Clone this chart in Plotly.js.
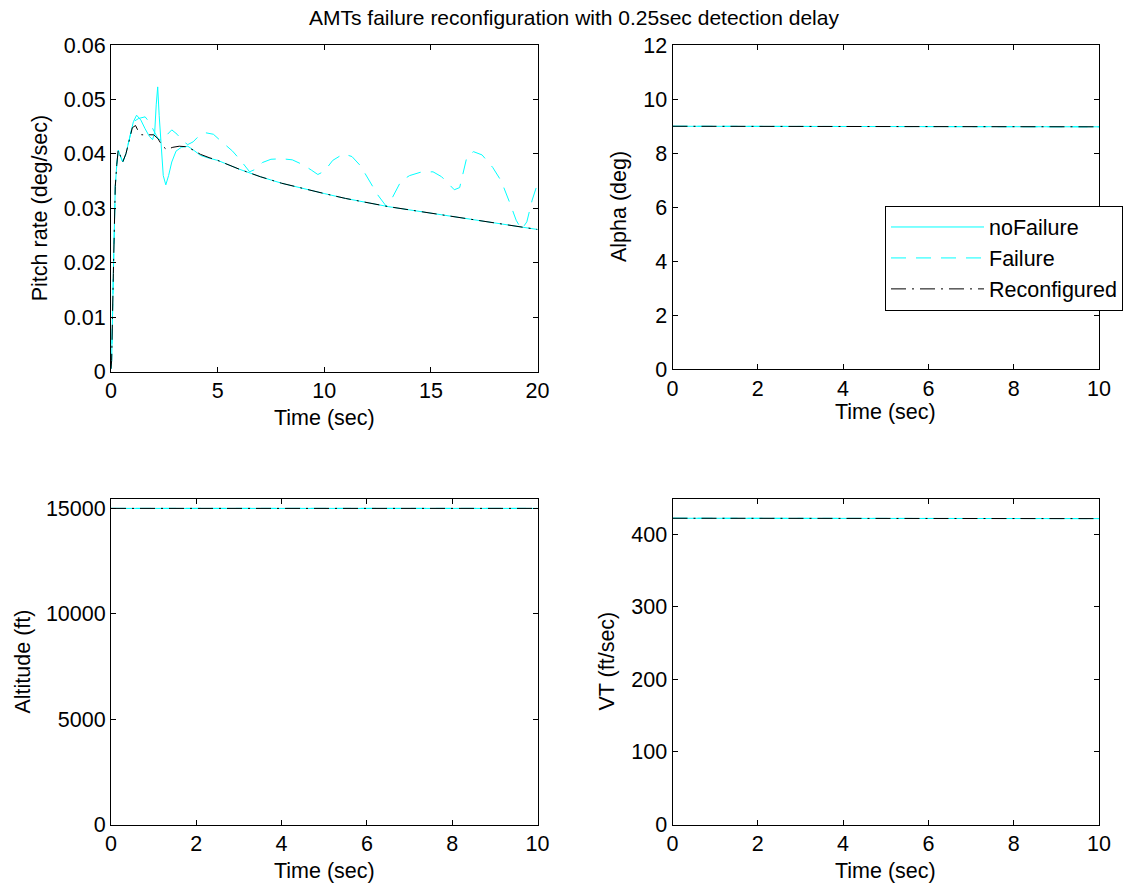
<!DOCTYPE html>
<html>
<head>
<meta charset="utf-8">
<script src="https://cdn.plot.ly/plotly-3.0.1.min.js"></script>
<style>html,body{margin:0;padding:0;background:#fff;}#chart{width:1148px;height:888px;}</style>
</head>
<body>
<div id="chart"></div>
<script>
// ---- Data ----
const seriesNames = ["noFailure", "Failure", "Reconfigured"];

// Pitch rate (deg/sec) vs time, 0..20 s
const tNoFail = [0, 0.03, 0.11, 0.2, 0.27, 0.34, 0.45, 0.55, 0.7, 0.85, 1.05, 1.2, 1.4, 1.6, 1.8, 1.95, 2.05, 2.12, 2.19, 2.26, 2.35, 2.45, 2.57, 2.7, 2.85, 3.05, 3.3, 3.6, 3.9, 4.2, 4.6, 5, 6, 7, 8, 9, 10, 11, 12, 13, 14, 15, 16, 17, 18, 19, 20];
const qNoFail = [0.0005, 0.002, 0.018, 0.034, 0.038, 0.0407, 0.0395, 0.0385, 0.040, 0.0428, 0.0459, 0.0471, 0.0462, 0.0446, 0.0432, 0.0426, 0.044, 0.049, 0.0523, 0.047, 0.041, 0.036, 0.0343, 0.036, 0.0385, 0.0405, 0.0412, 0.0414, 0.0406, 0.0397, 0.0392, 0.0388, 0.0372, 0.0358, 0.0346, 0.0336, 0.0327, 0.0318, 0.031, 0.0303, 0.0297, 0.0291, 0.0284, 0.0278, 0.0272, 0.0266, 0.0261];

const tFail = [0, 0.03, 0.11, 0.2, 0.27, 0.34, 0.45, 0.55, 0.7, 0.85, 1.05, 1.3, 1.6, 1.8, 2.0, 2.2, 2.4, 2.6, 2.85, 3.1, 3.35, 3.6, 3.85, 4.1, 4.4, 4.8, 5.2, 5.7, 6.1, 6.5, 6.8, 7.1, 7.5, 8.0, 8.5, 9.0, 9.4, 9.7, 10.0, 10.4, 10.9, 11.3, 11.7, 12.1, 12.5, 12.9, 13.2, 13.6, 14.0, 14.5, 15.1, 15.5, 15.8, 16.1, 16.35, 16.7, 17.0, 17.4, 17.9, 18.3, 18.7, 19.0, 19.25, 19.5, 19.75, 20];
const qFail = [0.0005, 0.002, 0.018, 0.034, 0.038, 0.0407, 0.0395, 0.0385, 0.040, 0.0428, 0.0459, 0.0465, 0.0468, 0.0458, 0.0444, 0.0428, 0.0424, 0.0434, 0.0444, 0.0436, 0.0424, 0.0417, 0.0422, 0.0432, 0.0439, 0.0436, 0.0422, 0.0405, 0.0387, 0.0367, 0.0372, 0.0384, 0.0390, 0.0391, 0.0389, 0.0380, 0.0370, 0.0362, 0.0368, 0.0388, 0.0400, 0.0395, 0.0378, 0.0352, 0.0325, 0.0304, 0.0320, 0.0350, 0.0360, 0.0366, 0.0367, 0.0358, 0.0345, 0.0334, 0.0338, 0.0396, 0.0404, 0.0398, 0.0375, 0.0350, 0.0310, 0.0278, 0.0261, 0.0275, 0.0315, 0.0345];

const tReconf = [0, 0.03, 0.11, 0.2, 0.27, 0.34, 0.45, 0.55, 0.7, 0.85, 1.0, 1.15, 1.3, 1.44, 2.0, 2.2, 2.4, 2.6, 2.9, 3.2, 3.55, 3.9, 4.2, 4.6, 5, 6, 7, 8, 9, 10, 11, 12, 13, 14, 15, 16, 17, 18, 19, 20];
const qReconf = [0.0005, 0.002, 0.018, 0.034, 0.038, 0.0407, 0.0395, 0.0385, 0.040, 0.0425, 0.0448, 0.0452, 0.0440, 0.0435, 0.0435, 0.0428, 0.0415, 0.0408, 0.0412, 0.0414, 0.0413, 0.0406, 0.0399, 0.0393, 0.0388, 0.0372, 0.0358, 0.0346, 0.0336, 0.0327, 0.0318, 0.031, 0.0303, 0.0297, 0.0291, 0.0284, 0.0278, 0.0272, 0.0266, 0.0261];

// Alpha, Altitude, VT vs time, 0..10 s
const t10 = [0, 1, 2, 3, 4, 5, 6, 7, 8, 9, 10];
const alphaNoFail = [8.99, 8.99, 8.99, 8.98, 8.98, 8.98, 8.98, 8.97, 8.97, 8.97, 8.97];
const alphaFail   = [8.99, 8.99, 8.99, 8.98, 8.98, 8.98, 8.98, 8.97, 8.97, 8.97, 8.97];
const alphaReconf = [8.99, 8.99, 8.99, 8.98, 8.98, 8.98, 8.98, 8.97, 8.97, 8.97, 8.97];
const altNoFail = [15000, 15000, 15000, 15000, 15000, 15000, 15000, 15000, 15000, 15000, 15000];
const altFail   = [15000, 15000, 15000, 15000, 15000, 15000, 15000, 15000, 15000, 15000, 15000];
const altReconf = [15000, 15000, 15000, 15000, 15000, 15000, 15000, 15000, 15000, 15000, 15000];
const vtNoFail = [421.8, 421.8, 421.7, 421.7, 421.6, 421.6, 421.5, 421.5, 421.4, 421.4, 421.3];
const vtFail   = [421.8, 421.8, 421.7, 421.7, 421.6, 421.6, 421.5, 421.5, 421.4, 421.4, 421.3];
const vtReconf = [421.8, 421.8, 421.7, 421.7, 421.6, 421.6, 421.5, 421.5, 421.4, 421.4, 421.3];

const titleText = "AMTs failure reconfiguration with 0.25sec detection delay";
const xLabel = "Time (sec)";
const yLabels = ["Pitch rate (deg/sec)", "Alpha (deg)", "Altitude (ft)", "VT (ft/sec)"];

// ---- Styles ----
const FONT = "Liberation Sans, Arial, Helvetica, sans-serif";
const FS = 21.5;
const styles = [
  {color: "#00FFFF", width: 1, dash: "solid"},
  {color: "#00FFFF", width: 1, dash: "15px,10px"},
  {color: "#000000", width: 1, dash: "15px,6px,2px,6px"}
];

function mk(x, y, i, xa, ya, showleg) {
  return {x: x, y: y, type: "scatter", mode: "lines", name: seriesNames[i],
    line: Object.assign({}, styles[i]), xaxis: xa, yaxis: ya, showlegend: showleg, hoverinfo: "skip"};
}

const data = [
  mk(tNoFail, qNoFail, 0, "x", "y", false),
  mk(tFail, qFail, 1, "x", "y", false),
  mk(tReconf, qReconf, 2, "x", "y", false),
  mk(t10, alphaNoFail, 0, "x2", "y2", true),
  mk(t10, alphaFail, 1, "x2", "y2", true),
  mk(t10, alphaReconf, 2, "x2", "y2", true),
  mk(t10, altNoFail, 0, "x3", "y3", false),
  mk(t10, altFail, 1, "x3", "y3", false),
  mk(t10, altReconf, 2, "x3", "y3", false),
  mk(t10, vtNoFail, 0, "x4", "y4", false),
  mk(t10, vtFail, 1, "x4", "y4", false),
  mk(t10, vtReconf, 2, "x4", "y4", false)
];

const W = 1148, H = 888;
function ax(extra) {
  return Object.assign({
    showgrid: false, zeroline: false, showline: true, linecolor: "#000", linewidth: 1,
    mirror: "allticks", ticks: "inside", ticklen: 5, tickcolor: "#000", tickwidth: 1,
    tickfont: {family: FONT, size: FS, color: "#000"}, fixedrange: true
  }, extra);
}
// plot boxes in pixels
const boxes = [
  {l: 111, r: 537.5, t: 45, b: 371.5},
  {l: 672.5, r: 1099, t: 45, b: 369},
  {l: 111, r: 537.5, t: 498.5, b: 824.5},
  {l: 672.5, r: 1099, t: 498.5, b: 824.5}
];
const xd = b => [b.l / W, b.r / W];
const yd = b => [1 - b.b / H, 1 - b.t / H];

const layout = {
  width: W, height: H,
  margin: {l: 0, r: 0, t: 0, b: 0},
  paper_bgcolor: "#fff", plot_bgcolor: "#fff",
  font: {family: FONT, size: FS, color: "#000"},
  title: {text: titleText, x: 0.5, xanchor: "center", xref: "paper", y: 1 - 18 / H, yanchor: "middle", yref: "container",
          font: {family: FONT, size: 21, color: "#000"}},
  showlegend: true,
  legend: {x: 885 / W, y: 1 - 205.5 / H, xanchor: "left", yanchor: "top", bgcolor: "#fff",
           bordercolor: "#000", borderwidth: 1, itemwidth: 93,
           font: {family: FONT, size: FS, color: "#000"}},
  xaxis:  ax({domain: xd(boxes[0]), range: [0, 20], dtick: 5, tick0: 0, anchor: "y"}),
  yaxis:  ax({domain: yd(boxes[0]), range: [0, 0.06], dtick: 0.01, tick0: 0, anchor: "x"}),
  xaxis2: ax({domain: xd(boxes[1]), range: [0, 10], dtick: 2, tick0: 0, anchor: "y2"}),
  yaxis2: ax({domain: yd(boxes[1]), range: [0, 12], dtick: 2, tick0: 0, anchor: "x2"}),
  xaxis3: ax({domain: xd(boxes[2]), range: [0, 10], dtick: 2, tick0: 0, anchor: "y3"}),
  yaxis3: ax({domain: yd(boxes[2]), range: [0, 15470], tickvals: [0, 5000, 10000, 15000], tickformat: "d", anchor: "x3"}),
  xaxis4: ax({domain: xd(boxes[3]), range: [0, 10], dtick: 2, tick0: 0, anchor: "y4"}),
  yaxis4: ax({domain: yd(boxes[3]), range: [0, 449], dtick: 100, tick0: 0, anchor: "x4"}),
  annotations: []
};

// axis titles
const ylabPos = [40, 619, 22, 606];
boxes.forEach((b, i) => {
  const cx = (b.l + b.r) / 2;
  const xTitleY = (i < 2) ? (i === 0 ? 418 : 412) : 871;
  layout.annotations.push({text: xLabel, xref: "paper", yref: "paper", x: cx / W, y: 1 - xTitleY / H,
    xanchor: "center", yanchor: "middle", showarrow: false, font: {family: FONT, size: FS, color: "#000"}});
  layout.annotations.push({text: yLabels[i], xref: "paper", yref: "paper", x: ylabPos[i] / W, y: 1 - ((b.t + b.b) / 2) / H,
    xanchor: "center", yanchor: "middle", textangle: -90, showarrow: false, font: {family: FONT, size: FS, color: "#000"}});
});

Plotly.newPlot("chart", data, layout, {displayModeBar: false, staticPlot: true});
</script>
</body>
</html>
